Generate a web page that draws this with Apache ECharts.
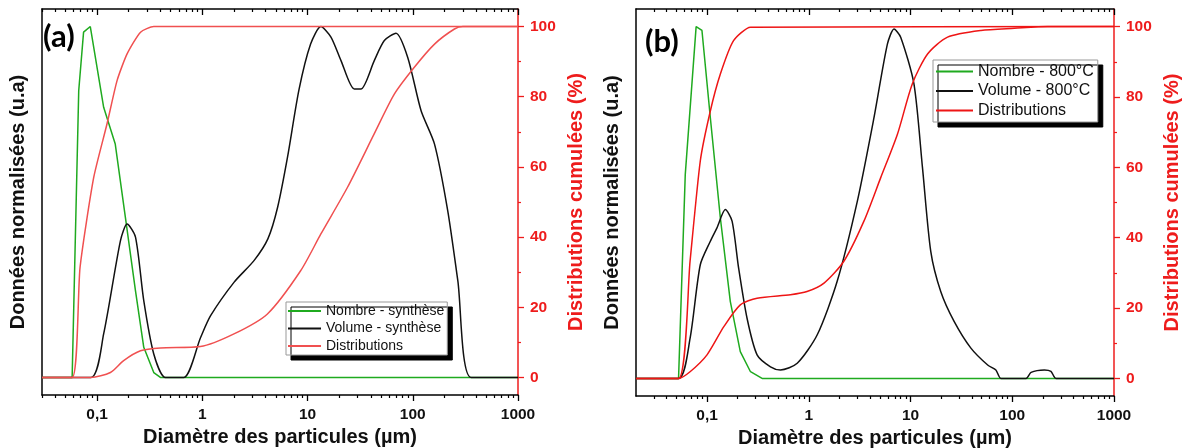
<!DOCTYPE html>
<html><head><meta charset="utf-8">
<script src="https://cdn.jsdelivr.net/npm/echarts@6/dist/echarts.min.js"></script>
<style>html,body{margin:0;padding:0;background:#fff}#c{width:1184px;height:448px}</style>
</head><body><div id="c"></div>
<script>
// ---------- data ----------
const xMajorTicks = [0.1, 1, 10, 100, 1000];
const xMinorTicks = [0.03,0.04,0.05,0.06,0.07,0.08,0.09,0.2,0.3,0.4,0.5,0.6,0.7,0.8,0.9,2,3,4,5,6,7,8,9,20,30,40,50,60,70,80,90,200,300,400,500,600,700,800,900];
const yMajorTicks = [0, 20, 40, 60, 80, 100];
const yMinorTicks = [10, 30, 50, 70, 90];

// Panel (a) - synthèse
const nombreA_x = [0.03, 0.058, 0.067, 0.0745, 0.0863, 0.1156, 0.149, 0.186, 0.232, 0.278, 0.346, 0.40, 1000];
const nombreA_y = [0, 0, 81.7, 98.4, 100, 77, 66.5, 45.6, 24.7, 8.6, 1.4, 0, 0];
const volumeA_x = [0.03, 0.0877, 0.1156, 0.167, 0.193, 0.232, 0.278, 0.346, 0.447, 0.668, 0.964, 1.2, 2.0, 3.1, 4.2, 5.2, 6.45, 8.3, 10.7, 13.4, 16.7, 20.8, 27.8, 32.2, 43.1, 53.7, 69.3, 89.6, 120, 161, 215, 268, 359, 1000];
const volumeA_y = [0, 0, 12.4, 39, 43.7, 40, 21.9, 6.7, 0, 0, 11.4, 17.6, 27.1, 33.3, 39.5, 48.5, 62.7, 82, 95, 100, 97, 90.3, 82.2, 82.2, 90.3, 96, 98.1, 91.2, 76, 66.5, 47.5, 27.6, 0, 0];
const cumNA_x = [0.03, 0.058, 0.069, 0.093, 0.1245, 0.155, 0.193, 0.259, 0.346, 1000];
const cumNA_y = [0, 0, 31.4, 57, 72.3, 84.6, 92.2, 98.4, 100, 100];
const cumVA_x = [0.03, 0.087, 0.134, 0.179, 0.259, 0.40, 0.96, 2.0, 4.16, 8.6, 13.4, 24, 43, 67, 103.5, 161, 249, 299, 1000];
const cumVA_y = [0, 0, 1.4, 4.8, 7.6, 8.4, 8.8, 12.4, 18.1, 30.4, 40.9, 54.2, 69.4, 80.8, 88.4, 95, 99.3, 100, 100];

// Panel (b) - 800°C
const nombreB_x = [0.02, 0.0524, 0.061, 0.078, 0.089, 0.1076, 0.135, 0.169, 0.212, 0.267, 0.347, 1000];
const nombreB_y = [0, 0, 58, 100, 98.9, 74.1, 45.6, 21.9, 7.6, 1.9, 0, 0];
const volumeB_x = [0.02, 0.0524, 0.068, 0.0857, 0.1076, 0.125, 0.151, 0.176, 0.204, 0.247, 0.31, 0.42, 0.526, 0.769, 1.21, 1.9, 3.0, 4.37, 5.92, 6.88, 8.0, 10.8, 13.1, 15.8, 19.8, 26.8, 39.2, 57.3, 69, 77.4, 136.5, 153, 207, 240, 269, 1000];
const volumeB_y = [0, 0, 11.4, 32.3, 39, 42.8, 48, 44.7, 31.4, 17.1, 6.7, 3.3, 2.4, 4.3, 12.4, 27.6, 50.4, 74.1, 95, 99.3, 97, 83.7, 59.9, 36.1, 24.7, 16.2, 8.6, 3.8, 2.4, 0, 0, 1.7, 2.4, 2, 0, 0];
const cumNB_x = [0.02, 0.0524, 0.068, 0.0857, 0.1076, 0.135, 0.182, 0.267, 1000];
const cumNB_y = [0, 0, 33.3, 61.8, 76, 86.5, 96, 99.8, 100];
const cumVB_x = [0.02, 0.0524, 0.068, 0.0998, 0.146, 0.212, 0.31, 0.66, 0.96, 1.41, 2.21, 3.48, 5.08, 7.43, 10.4, 14.7, 23.1, 49.2, 105, 223, 1000];
const cumVB_y = [0, 0, 1.9, 6.7, 14.7, 20.9, 22.8, 23.8, 24.7, 27.1, 33.3, 44.7, 57, 69.4, 83.7, 92.2, 97, 98.9, 99.5, 100, 100];

const xMin = [0.03, 0.02];
const panelLabels = ['(a)', '(b)'];
const nombreNames = ['Nombre - synthèse', 'Nombre - 800°C'];
const volumeNames = ['Volume - synthèse', 'Volume - 800°C'];
const distName = 'Distributions';
const xTitle = 'Diamètre des particules (µm)';
const yLeftTitle = 'Données normalisées (u.a)';
const yRightTitle = 'Distributions cumulées (%)';

// ---------- build ----------
const zip = (xs, ys) => xs.map((x, i) => [x, ys[i]]);
const FONT = '"Liberation Sans", Arial, sans-serif';
const GREEN = '#1faa1f', BLACK = '#111111';
const REDS = ['#f05050', '#ee1515'];
const AXRED = '#ee1c1c';

const grids = [
  {left: 42, top: 9, right: 666, bottom: 53, outerBoundsMode: 'none', containLabel: false},
  {left: 636, top: 9, right: 70, bottom: 52, outerBoundsMode: 'none', containLabel: false}
];

const fmtX = v => {
  const l = Math.log10(v);
  if (Math.abs(l - Math.round(l)) > 1e-6) return '';
  const r = Math.round(l);
  if (r === -1) return '0,1';
  return String(Math.round(Math.pow(10, r)));
};

const xAxes = [], yAxes = [], series = [];
[0, 1].forEach(g => {
  const base = {gridIndex: g, type: 'log', logBase: 10, min: xMin[g], max: 1000, splitLine: {show: false}};
  xAxes.push(Object.assign({}, base, {
    position: 'bottom',
    axisLine: {show: true, onZero: false, lineStyle: {color: '#000', width: 1.5}},
    axisTick: {show: true, length: 6, inside: false, customValues: xMajorTicks, lineStyle: {color: '#000', width: 1.3}},
    axisLabel: {show: true, customValues: xMajorTicks, formatter: fmtX, fontWeight: 'bold', fontSize: 15.5, color: '#111', margin: 12, fontFamily: FONT},
    name: xTitle, nameLocation: 'middle', nameGap: 24,
    nameTextStyle: {fontWeight: 'bold', fontSize: 20, color: '#111', fontFamily: FONT}
  }));
  xAxes.push(Object.assign({}, base, {
    position: 'bottom',
    axisLine: {show: false, onZero: false},
    axisTick: {show: true, length: 3, inside: false, customValues: xMinorTicks, lineStyle: {color: '#000', width: 1.2}},
    axisLabel: {show: false}
  }));
  xAxes.push(Object.assign({}, base, {
    position: 'top',
    axisLine: {show: true, onZero: false, lineStyle: {color: '#000', width: 1.5}},
    axisTick: {show: true, length: 6, inside: true, customValues: xMajorTicks, lineStyle: {color: '#000', width: 1.3}},
    axisLabel: {show: false}
  }));
  xAxes.push(Object.assign({}, base, {
    position: 'top',
    axisLine: {show: false, onZero: false},
    axisTick: {show: true, length: 3, inside: true, customValues: xMinorTicks, lineStyle: {color: '#000', width: 1.2}},
    axisLabel: {show: false}
  }));

  yAxes.push({
    gridIndex: g, type: 'value', min: -5, max: 105, position: 'left',
    axisLine: {show: true, onZero: false, lineStyle: {color: '#000', width: 1.5}},
    axisTick: {show: false}, axisLabel: {show: false}, splitLine: {show: false},
    name: yLeftTitle, nameLocation: 'middle', nameGap: 14, nameRotate: 90,
    nameTextStyle: {fontWeight: 'bold', fontSize: 20, color: '#111', fontFamily: FONT}
  });
  yAxes.push({
    gridIndex: g, type: 'value', min: -5, max: 105, position: 'right',
    axisLine: {show: true, onZero: false, lineStyle: {color: AXRED, width: 1.5}},
    axisTick: {show: true, length: 6, customValues: yMajorTicks, lineStyle: {color: AXRED, width: 1.3}},
    axisLabel: {show: true, customValues: yMajorTicks, color: AXRED, fontWeight: 'bold', fontSize: 15.5, margin: 12, fontFamily: FONT},
    splitLine: {show: false},
    name: yRightTitle, nameLocation: 'middle', nameGap: 48, nameRotate: 90,
    nameTextStyle: {fontWeight: 'bold', fontSize: 20, color: AXRED, fontFamily: FONT}
  });
  yAxes.push({
    gridIndex: g, type: 'value', min: -5, max: 105, position: 'right',
    axisLine: {show: false, onZero: false},
    axisTick: {show: true, length: 3, customValues: yMinorTicks, lineStyle: {color: AXRED, width: 1.2}},
    axisLabel: {show: false}, splitLine: {show: false}
  });
});

const mk = (name, data, g, color, smooth, yRight) => ({
  name, type: 'line', data, xAxisIndex: g * 4, yAxisIndex: g * 3 + (yRight ? 1 : 0),
  symbol: 'none', showSymbol: false, smooth: smooth, clip: true,
  lineStyle: {color, width: 1.5}, itemStyle: {color}
});

series.push(mk(nombreNames[0], zip(nombreA_x, nombreA_y), 0, GREEN, false, false));
series.push(mk(volumeNames[0], zip(volumeA_x, volumeA_y), 0, BLACK, 0.25, false));
series.push(mk(distName, zip(cumVA_x, cumVA_y), 0, REDS[0], 0.25, true));
series.push(mk(distName, zip(cumNA_x, cumNA_y), 0, REDS[0], 0.2, true));
series.push(mk(nombreNames[1], zip(nombreB_x, nombreB_y), 1, GREEN, false, false));
series.push(mk(volumeNames[1], zip(volumeB_x, volumeB_y), 1, BLACK, 0.25, false));
series.push(mk(distName, zip(cumVB_x, cumVB_y), 1, REDS[1], 0.25, true));
series.push(mk(distName, zip(cumNB_x, cumNB_y), 1, REDS[1], 0.2, true));

const legendBase = {
  orient: 'vertical', selectedMode: false,
  itemStyle: {opacity: 0, borderWidth: 0},
  backgroundColor: '#fff', borderColor: '#999', borderWidth: 1, borderRadius: 0,
  shadowColor: '#000', shadowBlur: 0, shadowOffsetX: 5, shadowOffsetY: 5
};
const legends = [
  Object.assign({}, legendBase, {
    left: 286, top: 302, itemWidth: 33, itemHeight: 14, itemGap: 3.5, padding: [2, 3, 2, 1],
    textStyle: {fontSize: 14, color: '#111', fontFamily: FONT},
    data: [{name: nombreNames[0]}, {name: volumeNames[0]}, {name: distName, lineStyle: {color: REDS[0]}}]
  }),
  Object.assign({}, legendBase, {
    left: 933, top: 60, itemWidth: 37, itemHeight: 16, itemGap: 3.5, padding: [3.5, 4, 3.5, 2],
    textStyle: {fontSize: 16, color: '#111', fontFamily: FONT},
    data: [{name: nombreNames[1]}, {name: volumeNames[1]}, {name: distName, lineStyle: {color: REDS[1]}}]
  })
];

const chart = echarts.init(document.getElementById('c'), null, {renderer: 'canvas'});
chart.setOption({
  animation: false,
  backgroundColor: '#fff',
  textStyle: {fontFamily: FONT},
  grid: grids,
  xAxis: xAxes,
  yAxis: yAxes,
  legend: legends,
  series: series,
  graphic: [
    {type: 'text', left: 43, top: 21, style: {text: panelLabels[0], font: 'bold 31px Lato, "Open Sans", sans-serif', fill: '#000'}},
    {type: 'text', left: 645, top: 26, style: {text: panelLabels[1], font: 'bold 31px Lato, "Open Sans", sans-serif', fill: '#000'}}
  ]
});
</script>
</body></html>
